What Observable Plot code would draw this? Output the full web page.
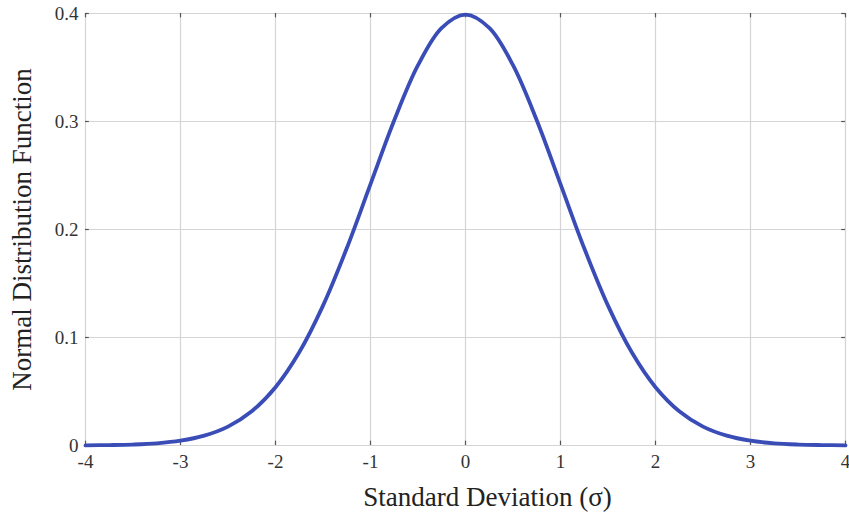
<!DOCTYPE html>
<html>
<head>
<meta charset="utf-8">
<script src="https://cdn.jsdelivr.net/npm/d3@7"></script>
<script src="https://cdn.jsdelivr.net/npm/@observablehq/plot@0.6"></script>
<style>
  html, body { margin: 0; padding: 0; background: #fff; }
  #chart svg { display: block; }
</style>
</head>
<body>
<div id="chart"></div>
<script>
// Standard normal density sampled every quarter sigma
const sigma = [-4, -3.75, -3.5, -3.25, -3, -2.75, -2.5, -2.25, -2, -1.75, -1.5, -1.25, -1, -0.75, -0.5, -0.25,
  0, 0.25, 0.5, 0.75, 1, 1.25, 1.5, 1.75, 2, 2.25, 2.5, 2.75, 3, 3.25, 3.5, 3.75, 4];
const density = [0.0001, 0.0004, 0.0009, 0.0020, 0.0044, 0.0091, 0.0175, 0.0317, 0.0540, 0.0863, 0.1295, 0.1826, 0.2420, 0.3011, 0.3521, 0.3867,
  0.3989, 0.3867, 0.3521, 0.3011, 0.2420, 0.1826, 0.1295, 0.0863, 0.0540, 0.0317, 0.0175, 0.0091, 0.0044, 0.0020, 0.0009, 0.0004, 0.0001];

const xTicks = [-4, -3, -2, -1, 0, 1, 2, 3, 4];
const yTicks = [0, 0.1, 0.2, 0.3, 0.4];
const yTickLabels = ["0", "0.1", "0.2", "0.3", "0.4"];

const curve = sigma.map((s, i) => ({s, p: density[i]}));
const gridColor = "#d4d4d4";
const tickColor = "#555";

const chart = Plot.plot({
  width: 849,
  height: 519,
  marginLeft: 85,
  marginRight: 4,
  marginTop: 13,
  marginBottom: 74,
  style: {fontFamily: "'Liberation Serif', 'DejaVu Serif', serif", background: "#fff"},
  x: {domain: [-4, 4]},
  y: {domain: [0, 0.4]},
  marks: [
    // grid lines (they also form the frame)
    Plot.ruleX(xTicks, {stroke: gridColor, strokeWidth: 1.2}),
    Plot.ruleY(yTicks, {stroke: gridColor, strokeWidth: 1.2}),
    // small inward tick marks at the frame edges
    Plot.ruleX(xTicks, {y1: 0, y2: 0.004, stroke: tickColor, strokeWidth: 1.2}),
    Plot.ruleX(xTicks, {y1: 0.4, y2: 0.396, stroke: tickColor, strokeWidth: 1.2}),
    Plot.ruleY(yTicks, {x1: -4, x2: -3.96, stroke: tickColor, strokeWidth: 1.2}),
    Plot.ruleY(yTicks, {x1: 4, x2: 3.96, stroke: tickColor, strokeWidth: 1.2}),
    Plot.axisX(xTicks, {
      tickSize: 0, tickPadding: 9, fontSize: 19, color: "#333",
      tickFormat: d => (d < 0 ? "-" + Math.abs(d) : String(d)),
      label: "Standard Deviation (σ)", labelAnchor: "center", labelArrow: "none", labelOffset: 60
    }),
    Plot.axisY(yTicks, {
      tickSize: 0, tickPadding: 7, fontSize: 19, color: "#333",
      tickFormat: (d, i) => yTickLabels[i],
      label: "Normal Distribution Function", labelAnchor: "center", labelArrow: "none", labelOffset: 74
    }),
    Plot.line(curve, {x: "s", y: "p", stroke: "#3a4db6", strokeWidth: 3.8, curve: "catmull-rom"})
  ]
});

// axis titles in the larger serif size; the x title sits a little right of centre
chart.querySelectorAll("[aria-label='x-axis label'] text, [aria-label='y-axis label'] text").forEach(t => {
  t.setAttribute("font-size", 27);
  t.setAttribute("fill", "#222");
});
chart.querySelectorAll("[aria-label='x-axis label'] text").forEach(t => t.setAttribute("dx", 22));
document.getElementById("chart").append(chart);
</script>
</body>
</html>
